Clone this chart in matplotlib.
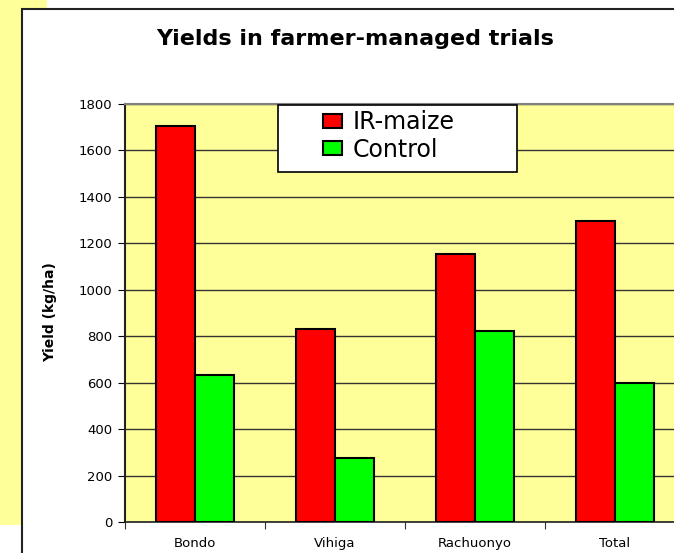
import numpy as np
import matplotlib
matplotlib.use("Agg")
import matplotlib.pyplot as plt
from matplotlib.patches import Rectangle

# data
districts = ["Bondo", "Vihiga", "Rachuonyo", "Total"]
ir_maize = [1705, 831, 1154, 1296]
control = [633, 276, 823, 599]
y_ticks = [0, 200, 400, 600, 800, 1000, 1200, 1400, 1600, 1800]

W, H = 674, 553
plt.rcParams['font.family'] = ['DejaVu Sans']

fig = plt.figure(figsize=(W / 100, H / 100), dpi=100)
fig.patch.set_facecolor("white")

# pale yellow strip behind the chart frame (slide background)
fig.patches.append(Rectangle((0, 1 - 525 / H), 47 / W, 525 / H, transform=fig.transFigure,
                             facecolor="#FFFF99", edgecolor="none", zorder=0))
# white chart frame with black border, runs off the right and bottom edge
fig.patches.append(Rectangle((22 / W, -0.05), 1.0, 1 - 9 / H + 0.05, transform=fig.transFigure,
                             facecolor="white", edgecolor="#222222", linewidth=1.5, zorder=1))

ax = fig.add_axes([125 / W, 1 - 522 / H, 560 / W, 418 / H])
ax.set_zorder(2)
ax.set_facecolor("#FFFF99")

x = np.arange(len(districts))
w = 0.28
ax.bar(x - w / 2, ir_maize, w, color="#FF0000", edgecolor="black", linewidth=1.5,
       label="IR-maize", zorder=3)
ax.bar(x + w / 2, control, w, color="#00FF00", edgecolor="black", linewidth=1.5,
       label="Control", zorder=3)

ax.set_xlim(-0.5, len(districts) - 0.5)
ax.set_ylim(0, 1800)
ax.set_yticks(y_ticks)
ax.yaxis.grid(True, color="#333333", linewidth=1.0, zorder=1)
ax.set_axisbelow(True)

# category boundaries as major ticks, names on minor ticks
ax.set_xticks(np.arange(len(districts) + 1) - 0.5)
ax.set_xticklabels([])
ax.set_xticks(x, minor=True)
ax.set_xticklabels(districts, minor=True, fontsize=9.5)
ax.tick_params(axis="x", which="major", length=5, direction="out", color="#333333")
ax.tick_params(axis="x", which="minor", length=0, pad=11)
ax.tick_params(axis="y", length=5, direction="out", labelsize=9.5, pad=4)

ax.spines["top"].set_color("#808080")
ax.spines["top"].set_linewidth(1.5)
ax.spines["right"].set_visible(False)
ax.spines["left"].set_color("#222222")
ax.spines["left"].set_linewidth(1.5)
ax.spines["bottom"].set_color("#222222")
ax.spines["bottom"].set_linewidth(1.2)

fig.text(355 / W, 1 - 39 / H, "Yields in farmer-managed trials", ha="center", va="center",
         fontsize=16, fontweight="bold", zorder=5)
fig.text(50 / W, 1 - 312 / H, "Yield (kg/ha)", rotation=90, ha="center", va="center",
         fontsize=10, fontweight="bold", zorder=5)

# legend box drawn separately so the entries can sit where they do in the picture
ax.add_patch(Rectangle((278 / W, 1 - 172 / H), 239 / W, 67 / H, transform=fig.transFigure,
                       facecolor="white", edgecolor="black", linewidth=1.2,
                       clip_on=False, zorder=6))
leg = ax.legend(loc="upper left", bbox_to_anchor=(323 / W, 1 - 110 / H),
                bbox_transform=fig.transFigure, borderaxespad=0, borderpad=0,
                frameon=False, fontsize=17,
                handlelength=0.8, handleheight=0.55, handletextpad=0.45, labelspacing=0.15)
leg.set_zorder(7)

fig.savefig("out.png", dpi=100)
